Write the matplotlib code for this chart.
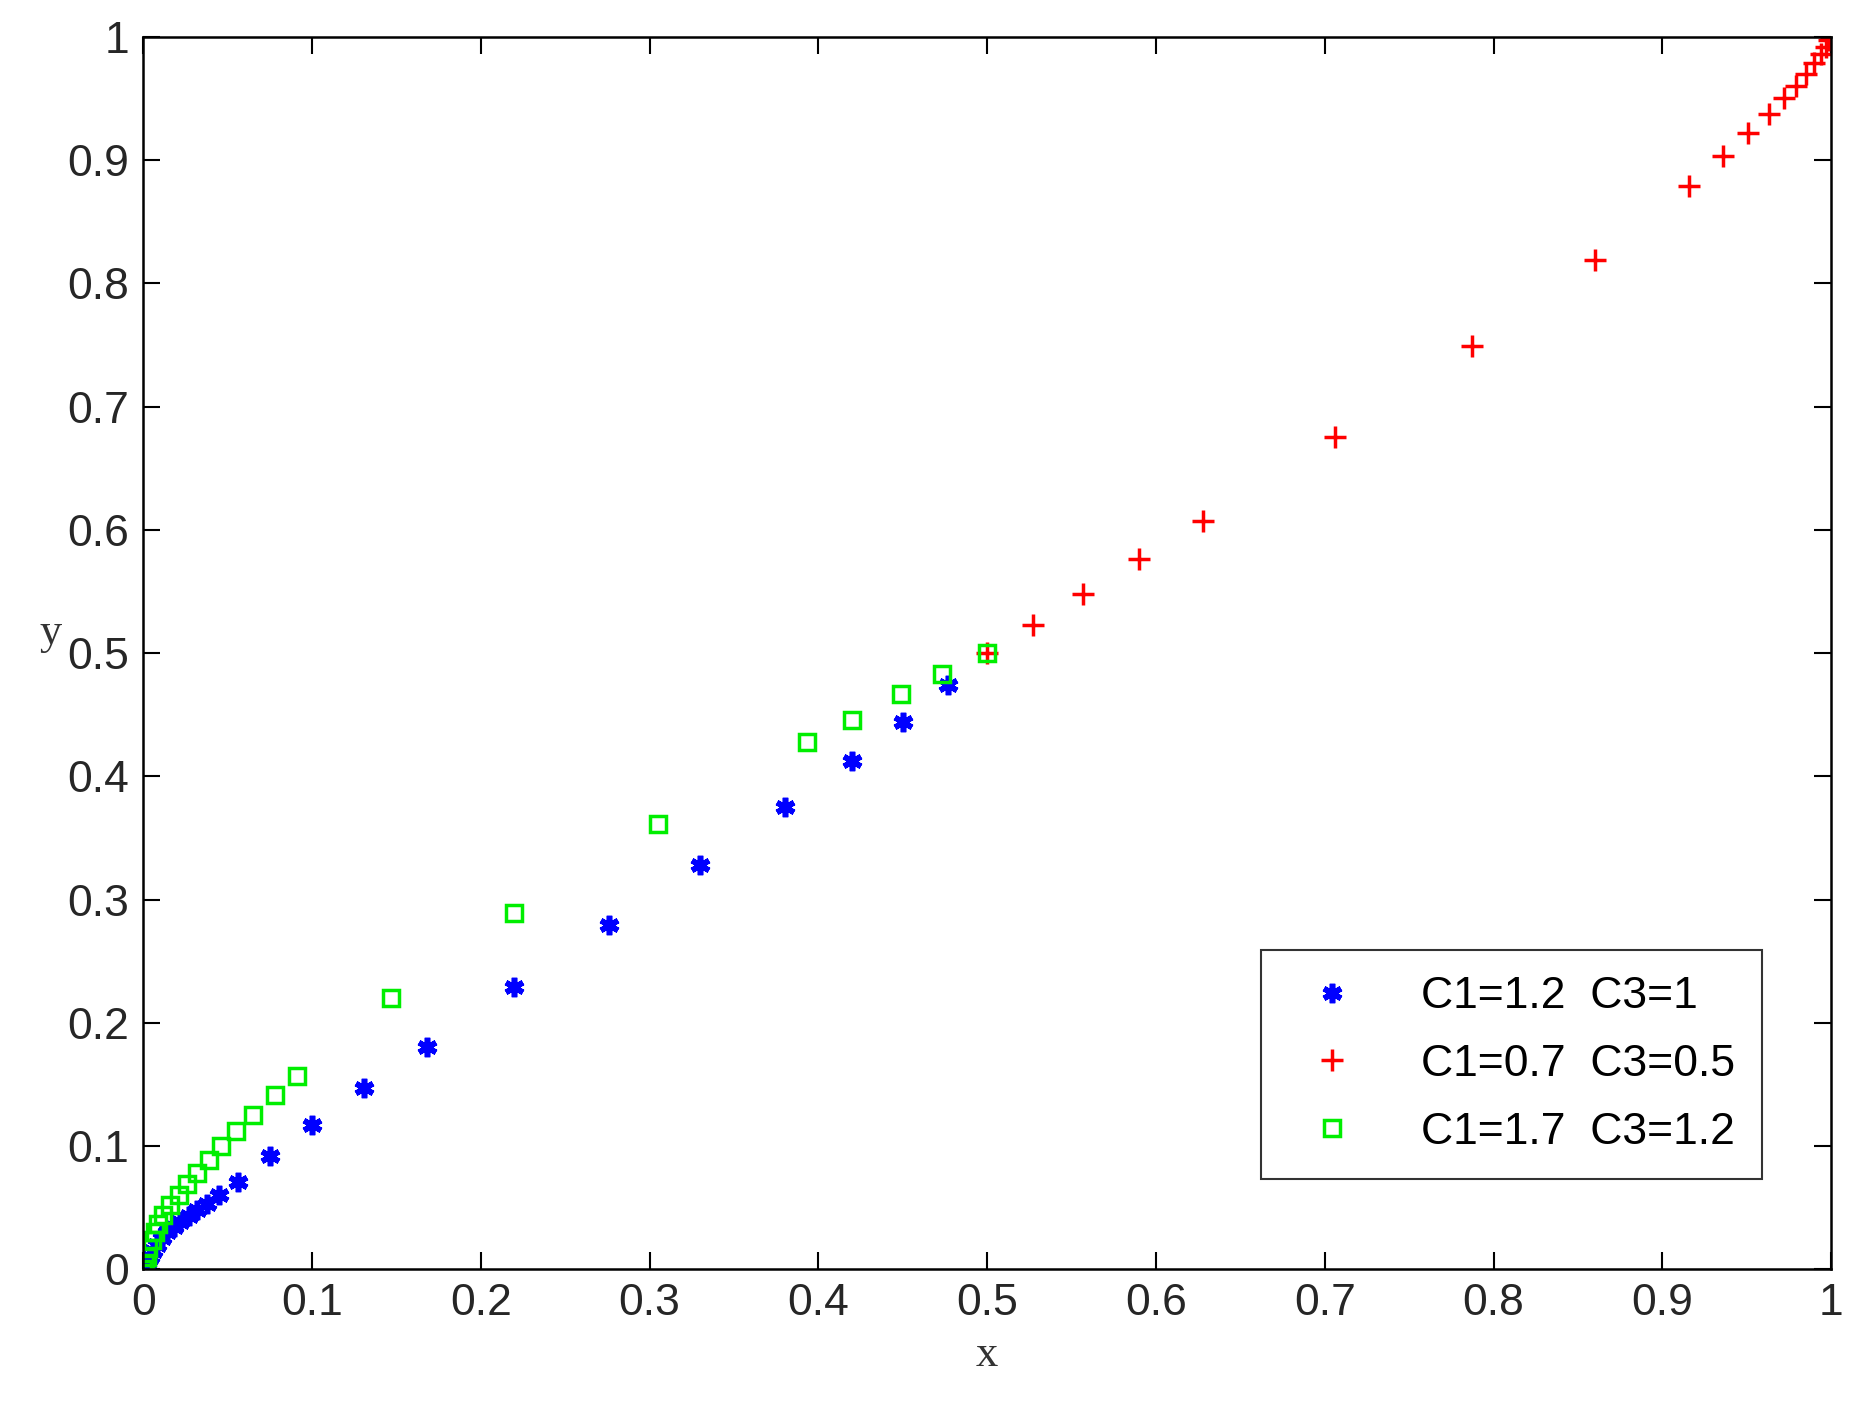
import matplotlib
matplotlib.use("Agg")
import matplotlib.pyplot as plt

blue_x = [0,0.001,0.002,0.004,0.006,0.008,0.011,0.014,0.018,0.022,0.027,0.032,0.038,0.045,0.056,0.075,0.1,0.131,0.168,0.22,0.276,0.33,0.38,0.42,0.45,0.477]
blue_y = [0,0.002,0.005,0.01,0.015,0.02,0.025,0.03,0.034,0.038,0.043,0.048,0.053,0.06,0.071,0.092,0.117,0.147,0.18,0.229,0.279,0.328,0.375,0.412,0.444,0.474]
red_x = [0.5,0.527,0.557,0.59,0.628,0.706,0.787,0.86,0.916,0.936,0.951,0.963,0.972,0.979,0.985,0.99,0.994,0.997,0.999,1.0]
red_y = [0.5,0.523,0.548,0.576,0.607,0.675,0.749,0.819,0.879,0.903,0.922,0.937,0.95,0.96,0.97,0.979,0.986,0.992,0.997,1.0]
green_x = [0,0.001,0.002,0.003,0.005,0.007,0.009,0.012,0.016,0.021,0.026,0.032,0.039,0.046,0.055,0.065,0.078,0.091,0.147,0.22,0.305,0.393,0.42,0.449,0.473,0.5]
green_y = [0,0.005,0.01,0.017,0.024,0.03,0.037,0.044,0.052,0.06,0.069,0.078,0.089,0.1,0.112,0.125,0.141,0.157,0.22,0.289,0.361,0.428,0.446,0.467,0.483,0.5]
labels = ["C1=1.2  C3=1", "C1=0.7  C3=0.5", "C1=1.7  C3=1.2"]
ticks = [0,0.1,0.2,0.3,0.4,0.5,0.6,0.7,0.8,0.9,1]
ticklabels = ["0","0.1","0.2","0.3","0.4","0.5","0.6","0.7","0.8","0.9","1"]

fig = plt.figure(figsize=(18.59,14.15), dpi=100)
ax = fig.add_axes([0.077, 0.103, 0.908, 0.871])
ax.plot(blue_x, blue_y, marker=(6,2,0), color='#0000ff', ms=14, mew=4, ls='none', label=labels[0])
ax.plot(red_x, red_y, '+', color='#ff0000', ms=16, mew=2.5, ls='none', label=labels[1])
ax.plot(green_x, green_y, 's', mfc='none', mec='#00ee00', ms=11, mew=2.5, ls='none', label=labels[2])
ax.set_xlim(0,1); ax.set_ylim(0,1)
ax.set_xticks(ticks); ax.set_xticklabels(ticklabels)
ax.set_yticks(ticks); ax.set_yticklabels(ticklabels)
ax.tick_params(direction='in', top=True, right=True, length=12, width=1.5, labelsize=32,
               labelcolor='#262626', pad=10)
for lab in ax.get_xticklabels()+ax.get_yticklabels():
    lab.set_family('Liberation Sans')
for s in ax.spines.values():
    s.set_linewidth(1.8)
ax.set_xlabel('x', family='Liberation Serif', fontsize=32, color='#333333', labelpad=8)
ax.set_ylabel('y', family='Liberation Serif', fontsize=32, color='#333333', rotation=0, labelpad=12)
leg = ax.legend(loc='lower right', bbox_to_anchor=(0.972,0.055), frameon=True, fancybox=False,
                edgecolor='black', handletextpad=1.0, borderpad=0.6, labelspacing=0.6,
                prop={'family':'Liberation Sans','size':32})
leg.get_frame().set_linewidth(1.5)
fig.savefig('out.png', dpi=100, facecolor='white')
